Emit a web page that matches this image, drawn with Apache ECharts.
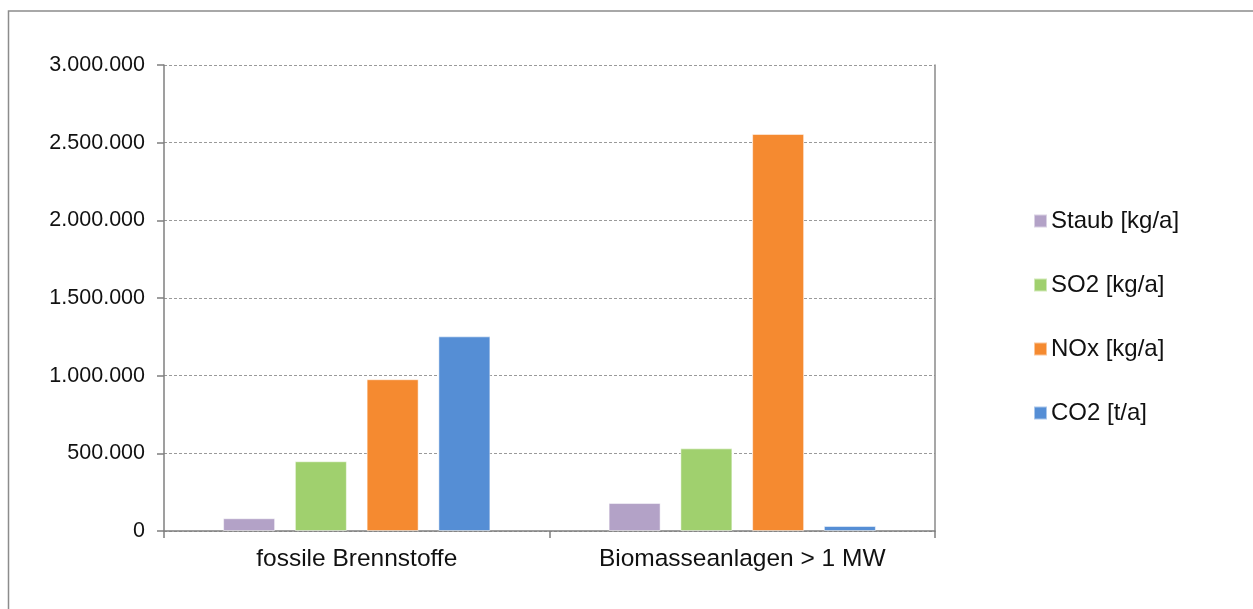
<!DOCTYPE html>
<html>
<head>
<meta charset="utf-8">
<script src="https://cdn.jsdelivr.net/npm/echarts@6/dist/echarts.min.js"></script>
<style>
html,body{margin:0;padding:0;background:#fff;}
#chart{width:1253px;height:609px;}
</style>
</head>
<body>
<div id="chart"></div>
<script>
const categories = ['fossile Brennstoffe', 'Biomasseanlagen > 1 MW'];
const seriesNames = ['Staub [kg/a]', 'SO2 [kg/a]', 'NOx [kg/a]', 'CO2 [t/a]'];
const staub = [82000, 180000];
const so2 = [449000, 532000];
const nox = [977000, 2556000];
const co2 = [1253000, 32000];
const colors = ['#B3A2C7', '#A0D06E', '#F58A30', '#558ED5'];
const yTicks = [0, 500000, 1000000, 1500000, 2000000, 2500000, 3000000];

const values = [staub, so2, nox, co2];
const fontFamily = 'Liberation Sans, Arial, sans-serif';

function fmt(v) {
  return String(v).replace(/\B(?=(\d{3})+(?!\d))/g, '.');
}

const chart = echarts.init(document.getElementById('chart'));
chart.setOption({
  animation: false,
  backgroundColor: '#fff',
  color: colors,
  graphic: [{
    type: 'rect',
    shape: {x: 8.5, y: 11, width: 1300, height: 700},
    style: {fill: 'none', stroke: '#8c8c8c', lineWidth: 1.5},
    silent: true
  }],
  grid: {left: 164, top: 65, right: 318, bottom: 78, containLabel: false},
  legend: {
    orient: 'vertical',
    left: 1028,
    top: 204,
    itemWidth: 13,
    itemHeight: 13,
    itemGap: 40,
    icon: 'rect',
    textStyle: {fontFamily: fontFamily, fontSize: 24, color: '#111', lineHeight: 24, padding: [0, 0, 0, -1]},
    data: seriesNames
  },
  xAxis: {
    type: 'category',
    data: categories,
    axisLine: {lineStyle: {color: '#7f7f7f', width: 1.5}},
    axisTick: {show: true, length: 7, lineStyle: {color: '#7f7f7f', width: 1.5}},
    axisLabel: {fontFamily: fontFamily, fontSize: 24.5, color: '#111', margin: 16},
    splitLine: {show: false}
  },
  yAxis: [{
    type: 'value',
    min: 0,
    max: 3000000,
    interval: 500000,
    axisLine: {show: true, lineStyle: {color: '#7f7f7f', width: 1.5}},
    axisTick: {show: true, length: 7, lineStyle: {color: '#7f7f7f', width: 1.5}},
    axisLabel: {
      fontFamily: fontFamily, fontSize: 21.5, color: '#111', margin: 19,
      formatter: function (v) { return yTicks.indexOf(v) >= 0 ? fmt(v) : ''; }
    },
    splitLine: {show: true, lineStyle: {color: '#9a9a9a', type: [3, 2], width: 1}}
  }, {
    type: 'value',
    position: 'right',
    min: 0,
    max: 3000000,
    interval: 500000,
    axisLine: {show: true, lineStyle: {color: '#8a8a8a', width: 1.5}},
    axisTick: {show: false},
    axisLabel: {show: false},
    splitLine: {show: false}
  }],
  series: seriesNames.map(function (name, i) {
    return {
      name: name,
      type: 'bar',
      yAxisIndex: 0,
      data: values[i],
      barWidth: 52,
      barGap: '38%',
      itemStyle: {color: colors[i], borderColor: 'rgba(255,255,255,0.5)', borderWidth: 1}
    };
  })
});
</script>
</body>
</html>
